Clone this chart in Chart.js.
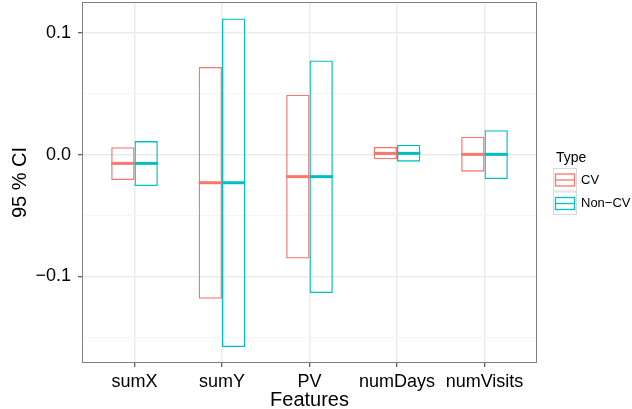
<!DOCTYPE html>
<html>
<head>
<meta charset="utf-8">
<script src="https://cdn.jsdelivr.net/npm/chart.js@4"></script>
<style>
  html, body { margin: 0; padding: 0; background: #fff; }
  #wrap { width: 632px; height: 409px; position: relative; }
</style>
</head>
<body>
<div id="wrap"><canvas id="ciChart"></canvas></div>
<script>
// features on the x axis
const features = ['sumX', 'sumY', 'PV', 'numDays', 'numVisits'];

// CV intervals (lower, upper, point estimate)
const cvLow = [-0.0207, -0.1183, -0.0852, -0.0038, -0.0139];
const cvHigh = [0.0061, 0.0721, 0.0492, 0.0063, 0.0148];
const cvMid = [-0.0071, -0.0230, -0.0180, 0.0011, 0.0003];

// Non-CV intervals
const nonCvLow = [-0.0257, -0.1579, -0.1136, -0.0057, -0.0199];
const nonCvHigh = [0.0112, 0.1118, 0.0774, 0.0082, 0.0202];
const nonCvMid = [-0.0071, -0.0230, -0.0180, 0.0011, 0.0003];

// y axis ticks
const yMajorTicks = [-0.1, 0.0, 0.1];
const yTickLabels = ['\u22120.1', '0.0', '0.1'];
const yMinorTicks = [-0.15, -0.05, 0.05];

const seriesNames = ['CV', 'Non\u2212CV'];
const seriesColors = ['#F8766D', '#00BFC4'];

const FONT = '"Liberation Sans", Arial, Helvetica, sans-serif';

function toBars(low, high) {
    return features.map((f, i) => ({ x: i + 1, y: [low[i], high[i]] }));
}

function isMajor(v) {
    return yMajorTicks.some((m) => Math.abs(m - v) < 1e-9);
}

// middle line of each crossbar, drawn with the bar's own x / width
const crossbarMiddle = {
    id: 'crossbarMiddle',
    afterDatasetsDraw(chart) {
        const ctx = chart.ctx;
        const yScale = chart.scales.y;
        chart.data.datasets.forEach((ds, d) => {
            const meta = chart.getDatasetMeta(d);
            meta.data.forEach((bar, i) => {
                const py = yScale.getPixelForValue(ds.mids[i]);
                ctx.save();
                ctx.strokeStyle = ds.borderColor;
                ctx.lineWidth = 3;
                ctx.beginPath();
                ctx.moveTo(bar.x - bar.width / 2, py);
                ctx.lineTo(bar.x + bar.width / 2, py);
                ctx.stroke();
                ctx.restore();
            });
        });
    },
};

// panel border + legend on the right
const panelAndLegend = {
    id: 'panelAndLegend',
    afterDraw(chart) {
        const ctx = chart.ctx;
        const a = chart.chartArea;
        ctx.save();
        ctx.strokeStyle = '#808080';
        ctx.lineWidth = 1;
        ctx.strokeRect(Math.round(a.left) + 0.5, Math.round(a.top) + 0.5,
            Math.round(a.right - a.left) - 1, Math.round(a.bottom - a.top) - 1);

        // legend
        const lx = a.right + 16;
        const ly = 162;
        ctx.fillStyle = '#000';
        ctx.font = '14px ' + FONT;
        ctx.textBaseline = 'alphabetic';
        ctx.textAlign = 'left';
        ctx.fillText('Type', lx + 3, ly);

        chart.data.datasets.forEach((ds, d) => {
            const ky = ly + 6 + d * 23.5;
            ctx.fillStyle = '#fff';
            ctx.fillRect(lx, ky, 24, 23.5);
            ctx.strokeStyle = '#D9D9D9';
            ctx.lineWidth = 1;
            ctx.strokeRect(lx + 0.5, ky + 0.5, 23, 22.5);
            ctx.strokeStyle = ds.borderColor;
            ctx.lineWidth = 1.3;
            ctx.strokeRect(lx + 2.5, ky + 6, 19, 12);
            ctx.beginPath();
            ctx.moveTo(lx + 2.5, ky + 12);
            ctx.lineTo(lx + 21.5, ky + 12);
            ctx.stroke();
            ctx.fillStyle = '#000';
            ctx.font = '13px ' + FONT;
            ctx.textBaseline = 'middle';
            ctx.fillText(ds.label, lx + 28, ky + 12);
        });
        ctx.restore();
    },
};

const ctx = document.getElementById('ciChart').getContext('2d');
new Chart(ctx, {
    type: 'bar',
    data: {
        datasets: [
            {
                label: seriesNames[0],
                data: toBars(cvLow, cvHigh),
                mids: cvMid,
                borderColor: seriesColors[0],
                backgroundColor: 'rgba(0,0,0,0)',
                borderWidth: 1.3,
                borderSkipped: false,
            },
            {
                label: seriesNames[1],
                data: toBars(nonCvLow, nonCvHigh),
                mids: nonCvMid,
                borderColor: seriesColors[1],
                backgroundColor: 'rgba(0,0,0,0)',
                borderWidth: 1.3,
                borderSkipped: false,
            },
        ],
    },
    options: {
        responsive: true,
        maintainAspectRatio: false,
        animation: false,
        devicePixelRatio: 1,
        categoryPercentage: 0.533,
        barPercentage: 1,
        layout: { padding: { top: 2, right: 95, bottom: 0, left: 0 } },
        plugins: {
            legend: { display: false },
            tooltip: { enabled: false },
        },
        scales: {
            x: {
                type: 'linear',
                min: 0.4,
                max: 5.6,
                offset: false,
                afterBuildTicks: (scale) => {
                    scale.ticks = features.map((f, i) => ({ value: i + 1 }));
                },
                afterFit: (scale) => {
                    scale.height = 46;
                    scale.paddingLeft = 0;
                    scale.paddingRight = 0;
                },
                ticks: {
                    autoSkip: false,
                    maxRotation: 0,
                    padding: 4,
                    color: '#000',
                    font: { family: FONT, size: 18 },
                    callback: (v) => features[Math.round(v) - 1],
                },
                grid: {
                    offset: false,
                    color: '#EBEBEB',
                    lineWidth: 1.5,
                    tickLength: 4,
                    tickColor: '#333333',
                    tickWidth: 1,
                },
                border: { display: false },
                title: {
                    display: true,
                    text: 'Features',
                    color: '#000',
                    font: { family: FONT, size: 20, lineHeight: 1 },
                    padding: { top: 0, bottom: -1 },
                },
            },
            y: {
                min: -0.171,
                max: 0.1254,
                afterBuildTicks: (scale) => {
                    scale.ticks = yMinorTicks.concat(yMajorTicks)
                        .sort((p, q) => p - q)
                        .map((v) => ({ value: v }));
                },
                afterFit: (scale) => {
                    scale.width = 82;
                    scale.paddingTop = 0;
                    scale.paddingBottom = 0;
                },
                ticks: {
                    padding: 7,
                    color: '#000',
                    font: { family: FONT, size: 18 },
                    callback: (v) => {
                        const k = yMajorTicks.findIndex((m) => Math.abs(m - v) < 1e-9);
                        return k >= 0 ? yTickLabels[k] : '';
                    },
                },
                grid: {
                    color: (c) => isMajor(c.tick.value) ? '#EBEBEB' : '#F5F5F5',
                    lineWidth: (c) => isMajor(c.tick.value) ? 1.5 : 1,
                    tickLength: 4,
                    tickColor: (c) => isMajor(c.tick.value) ? '#333333' : 'rgba(0,0,0,0)',
                    tickWidth: 1,
                },
                border: { display: false },
                title: {
                    display: true,
                    text: '95 % CI',
                    color: '#000',
                    font: { family: FONT, size: 20, lineHeight: 1.2 },
                    padding: { top: 8, bottom: 0 },
                },
            },
        },
    },
    plugins: [crossbarMiddle, panelAndLegend],
});
</script>
</body>
</html>
